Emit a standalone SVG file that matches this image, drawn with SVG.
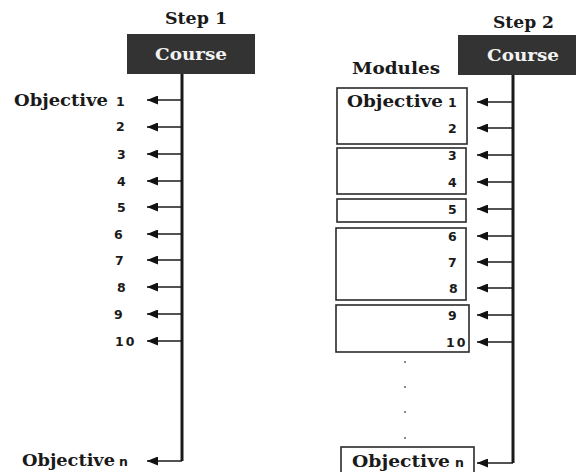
<svg xmlns="http://www.w3.org/2000/svg" width="576" height="472" viewBox="0 0 576 472">
  <defs>
    <marker id="head" viewBox="0 0 11 9" refX="0" refY="4.5" markerWidth="11" markerHeight="9" markerUnits="userSpaceOnUse" orient="auto">
      <path d="M0,4.5 L11,0 L11,9 Z" fill="#111"/>
    </marker>
    <style>
      .serif { font-family: "DejaVu Serif", "Liberation Serif", serif; font-weight: bold; fill: #1a1a1a; }
      .num { font-family: "DejaVu Sans", "Liberation Sans", sans-serif; font-weight: bold; font-size: 12.5px; fill: #1a1a1a; }
      .title { font-size: 16px; }
      .obj { font-size: 16.5px; }
      .course-box { fill: #333333; }
      .course-text { font-family: "DejaVu Serif", "Liberation Serif", serif; font-weight: bold; font-size: 16px; fill: #f2f2f2; }
      .module { fill: #ffffff; stroke: #2a2a2a; stroke-width: 1.6; }
      .trunk { stroke: #1a1a1a; stroke-width: 3; fill: none; }
      .branch { stroke: #1a1a1a; stroke-width: 1.5; fill: none; marker-start: url(#head); }
      .dot { fill: #8a8a8a; }
    </style>
  </defs>

  <!-- Step 1: course with objectives -->
  <g id="step1-title">
    <text class="serif title" x="165" y="24" textLength="62" lengthAdjust="spacingAndGlyphs">Step 1</text>
  </g>
  <g id="step1-course">
    <rect class="course-box" x="127" y="34" width="128" height="40"/>
    <text class="course-text" x="155" y="60" textLength="72" lengthAdjust="spacingAndGlyphs">Course</text>
  </g>
  <g id="step1-objectives">
    <text class="serif obj" x="14" y="106" textLength="94" lengthAdjust="spacingAndGlyphs">Objective</text>
    <text class="num" x="116" y="106">1</text>
    <text class="num" x="116" y="131">2</text>
    <text class="num" x="117" y="158.5">3</text>
    <text class="num" x="117" y="185.5">4</text>
    <text class="num" x="117" y="211.5">5</text>
    <text class="num" x="114" y="238.5">6</text>
    <text class="num" x="115" y="264.5">7</text>
    <text class="num" x="117" y="291.5">8</text>
    <text class="num" x="114" y="318.5">9</text>
    <text class="num" x="115" y="345.5" letter-spacing="2">10</text>
    <text class="serif obj" x="22" y="466" textLength="93" lengthAdjust="spacingAndGlyphs">Objective</text>
    <text class="num" x="119" y="466" font-size="11">n</text>
  </g>

  <!-- Step 2: course split into modules -->
  <g id="step2-title">
    <text class="serif title" x="493" y="28" textLength="61" lengthAdjust="spacingAndGlyphs">Step 2</text>
  </g>
  <g id="step2-course">
    <rect class="course-box" x="458" y="35" width="120" height="40"/>
    <text class="course-text" x="487" y="61" textLength="72" lengthAdjust="spacingAndGlyphs">Course</text>
  </g>
  <g id="modules-label">
    <text class="serif title" x="352" y="74" textLength="88" lengthAdjust="spacingAndGlyphs">Modules</text>
  </g>
  <g id="module-1">
    <rect class="module" x="337" y="88" width="130" height="56"/>
    <text class="serif obj" x="347" y="107" textLength="96" lengthAdjust="spacingAndGlyphs">Objective</text>
    <text class="num" x="448" y="107">1</text>
    <text class="num" x="448" y="132.5">2</text>
  </g>
  <g id="module-2">
    <rect class="module" x="337" y="148" width="129" height="46"/>
    <text class="num" x="448" y="159.5">3</text>
    <text class="num" x="448" y="186.5">4</text>
  </g>
  <g id="module-3">
    <rect class="module" x="337" y="199" width="129" height="23"/>
    <text class="num" x="448" y="213.5">5</text>
  </g>
  <g id="module-4">
    <rect class="module" x="336" y="228" width="130" height="72"/>
    <text class="num" x="448" y="240.5">6</text>
    <text class="num" x="448" y="266.5">7</text>
    <text class="num" x="449" y="292.5">8</text>
  </g>
  <g id="module-5">
    <rect class="module" x="336" y="305" width="133" height="47"/>
    <text class="num" x="448" y="319.5">9</text>
    <text class="num" x="446" y="346.5" letter-spacing="2">10</text>
  </g>
  <g id="ellipsis">
    <rect class="dot" x="404" y="361" width="2" height="2"/>
    <rect class="dot" x="404" y="386" width="2" height="2"/>
    <rect class="dot" x="404" y="411" width="2" height="2"/>
    <rect class="dot" x="404" y="437" width="2" height="2"/>
  </g>
  <g id="module-n">
    <rect class="module" x="341" y="447" width="133" height="40"/>
    <text class="serif obj" x="352" y="467" textLength="98" lengthAdjust="spacingAndGlyphs">Objective</text>
    <text class="num" x="455" y="467" font-size="11">n</text>
  </g>

  <!-- connectors -->
  <g id="connectors">
    <path class="trunk" d="M182,74 V461"/>
    <path class="branch" d="M147,100 H182"/>
    <path class="branch" d="M147,127 H182"/>
    <path class="branch" d="M147,154 H182"/>
    <path class="branch" d="M147,181 H182"/>
    <path class="branch" d="M147,207 H182"/>
    <path class="branch" d="M147,234 H182"/>
    <path class="branch" d="M147,260 H182"/>
    <path class="branch" d="M147,287 H182"/>
    <path class="branch" d="M147,314 H182"/>
    <path class="branch" d="M147,341 H182"/>
    <path class="branch" d="M147,461 H182"/>

    <path class="trunk" d="M513,75 V463"/>
    <path class="branch" d="M477,102 H513"/>
    <path class="branch" d="M477,128 H513"/>
    <path class="branch" d="M477,155 H513"/>
    <path class="branch" d="M477,182 H513"/>
    <path class="branch" d="M477,209 H513"/>
    <path class="branch" d="M477,236 H513"/>
    <path class="branch" d="M477,262 H513"/>
    <path class="branch" d="M477,288 H513"/>
    <path class="branch" d="M477,315 H513"/>
    <path class="branch" d="M477,342 H513"/>
    <path class="branch" d="M477,463 H513"/>
  </g>
</svg>
